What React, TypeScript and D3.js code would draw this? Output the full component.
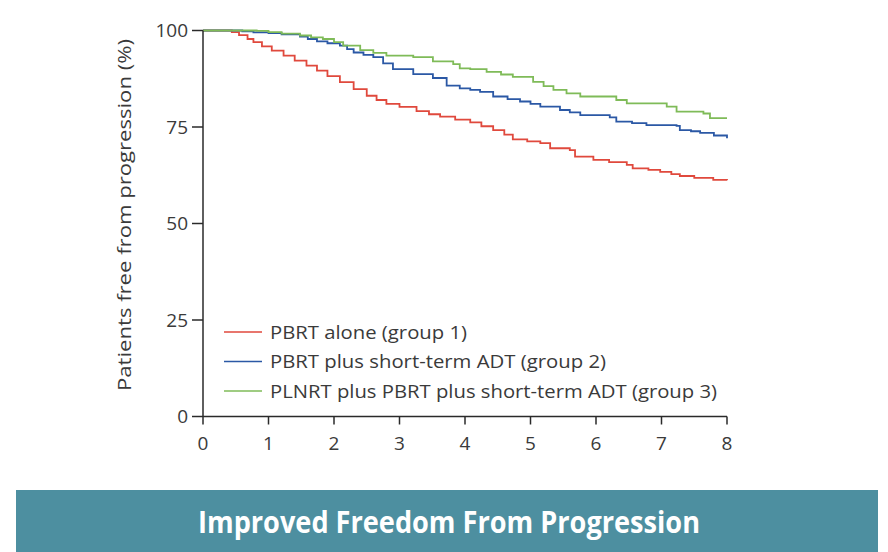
import React from "react";
import * as d3 from "d3";

// Kaplan-Meier estimates: time (years) and % free from progression
const group1Times = [0, 0.44, 0.55, 0.68, 0.77, 0.9, 1.05, 1.23, 1.4, 1.58, 1.74, 1.9, 2.09, 2.3, 2.5, 2.65, 2.8, 3.0, 3.26, 3.45, 3.62, 3.85, 4.08, 4.25, 4.43, 4.6, 4.73, 4.95, 5.15, 5.3, 5.6, 5.68, 5.96, 6.2, 6.47, 6.56, 6.8, 6.98, 7.15, 7.28, 7.5, 7.79, 8.0];
const group1Values = [100, 99.6, 98.8, 97.8, 97.0, 95.9, 94.8, 93.5, 92.2, 90.9, 89.6, 88.2, 86.6, 84.8, 83.1, 82.0, 81.0, 80.2, 79.1, 78.3, 77.7, 76.9, 76.2, 75.2, 74.2, 73.0, 71.8, 71.3, 70.8, 69.5, 69.0, 67.3, 66.5, 65.9, 65.2, 64.3, 63.9, 63.4, 62.8, 62.3, 61.8, 61.3, 61.2];

const group2Times = [0, 0.6, 0.77, 1.0, 1.2, 1.48, 1.6, 1.74, 1.9, 2.09, 2.2, 2.3, 2.45, 2.6, 2.75, 2.9, 3.21, 3.51, 3.72, 3.92, 4.08, 4.23, 4.43, 4.65, 4.84, 5.0, 5.15, 5.45, 5.6, 5.76, 6.21, 6.31, 6.55, 6.77, 7.23, 7.28, 7.45, 7.59, 7.8, 8.0];
const group2Values = [100, 99.8, 99.5, 99.3, 99.0, 98.4, 97.8, 97.2, 96.7, 96.1, 95.2, 94.3, 93.7, 93.1, 91.5, 90.0, 88.7, 87.7, 85.7, 85.0, 84.6, 84.1, 82.9, 82.2, 81.6, 81.0, 80.3, 79.4, 78.8, 78.1, 77.5, 76.4, 76.0, 75.5, 75.3, 74.2, 73.9, 73.5, 72.8, 72.1];

const group3Times = [0, 0.82, 1.0, 1.2, 1.48, 1.65, 1.83, 2.0, 2.14, 2.4, 2.6, 2.8, 3.21, 3.51, 3.82, 3.92, 4.08, 4.33, 4.55, 4.73, 5.04, 5.2, 5.35, 5.55, 5.76, 6.31, 6.47, 7.08, 7.23, 7.64, 7.74, 8.0];
const group3Values = [100, 99.9, 99.6, 99.2, 98.7, 98.2, 97.8, 97.0, 96.1, 94.9, 94.2, 93.5, 93.1, 92.0, 91.3, 90.2, 90.0, 89.3, 88.6, 88.0, 86.7, 85.6, 84.6, 83.7, 82.9, 82.0, 81.1, 80.3, 79.0, 78.5, 77.3, 77.3];

const groupLabels = [
  "PBRT alone (group 1)",
  "PBRT plus short-term ADT (group 2)",
  "PLNRT plus PBRT plus short-term ADT (group 3)",
];
const groupColors = ["#e0493d", "#2b58a5", "#7fbb58"];

const xTickValues = [0, 1, 2, 3, 4, 5, 6, 7, 8];
const yTickValues = [0, 25, 50, 75, 100];

const yAxisTitle = "Patients free from progression (%)";
const bannerTitle = "Improved Freedom From Progression";

const series = [
  { times: group1Times, values: group1Values },
  { times: group2Times, values: group2Values },
  { times: group3Times, values: group3Values },
];

export default function App() {
  const width = 888;
  const height = 552;
  const x = d3.scaleLinear().domain([0, 8]).range([203, 727]);
  const y = d3.scaleLinear().domain([0, 100]).range([416.5, 30.5]);

  const line = d3
    .line<[number, number]>()
    .x((d) => x(d[0]))
    .y((d) => y(d[1]))
    .curve(d3.curveStepAfter);

  const axisColor = "#2a2a2a";
  const textColor = "#3a3a3a";
  const font = "'Open Sans', sans-serif";

  const legendY = [332, 361.5, 391];
  const legendWidths = [197, 336, 447];

  return (
    <svg
      width={width}
      height={height}
      viewBox={`0 0 ${width} ${height}`}
      style={{ position: "absolute", left: 0, top: 0, background: "#fff" }}
    >
      {/* survival curves */}
      {series.map((s, i) => (
        <path
          key={i}
          d={line(s.times.map((t, j) => [t, s.values[j]] as [number, number])) || ""}
          fill="none"
          stroke={groupColors[i]}
          strokeWidth={1.8}
        />
      ))}

      {/* axes */}
      <line x1={x(0)} x2={x(0)} y1={y(0)} y2={y(100)} stroke={axisColor} strokeWidth={1.5} />
      <line x1={x(0)} x2={x(8)} y1={y(0)} y2={y(0)} stroke={axisColor} strokeWidth={1.5} />

      {yTickValues.map((v) => (
        <g key={`y${v}`}>
          <line x1={x(0) - 11} x2={x(0)} y1={y(v)} y2={y(v)} stroke={axisColor} strokeWidth={1.5} />
          <text
            x={x(0) - 15}
            y={y(v)}
            dy="0.36em"
            textAnchor="end"
            fontFamily={font}
            fontSize={19}
            fill={textColor}
          >
            {v}
          </text>
        </g>
      ))}

      {xTickValues.map((v) => (
        <g key={`x${v}`}>
          <line x1={x(v)} x2={x(v)} y1={y(0)} y2={y(0) + 8} stroke={axisColor} strokeWidth={1.5} />
          <text
            x={x(v)}
            y={450}
            textAnchor="middle"
            fontFamily={font}
            fontSize={19}
            fill={textColor}
          >
            {v}
          </text>
        </g>
      ))}

      <text
        transform={`translate(131, 215) rotate(-90)`}
        textAnchor="middle"
        fontFamily={font}
        fontSize={19}
        fill={textColor}
        textLength={352}
        lengthAdjust="spacingAndGlyphs"
      >
        {yAxisTitle}
      </text>

      {/* legend */}
      {groupLabels.map((label, i) => (
        <g key={label}>
          <line x1={224} x2={262} y1={legendY[i]} y2={legendY[i]} stroke={groupColors[i]} strokeWidth={1.5} />
          <text
            x={270}
            y={legendY[i]}
            dy="0.36em"
            fontFamily={font}
            fontSize={19}
            fill={textColor}
            textLength={legendWidths[i]}
            lengthAdjust="spacingAndGlyphs"
          >
            {label}
          </text>
        </g>
      ))}

      {/* title banner */}
      <rect x={16} y={490} width={862} height={62} fill="#4d8fa0" />
      <text
        x={449}
        y={533}
        textAnchor="middle"
        fontFamily={font}
        fontWeight={700}
        fontSize={30}
        fill="#ffffff"
        textLength={502}
        lengthAdjust="spacingAndGlyphs"
      >
        {bannerTitle}
      </text>
    </svg>
  );
}
